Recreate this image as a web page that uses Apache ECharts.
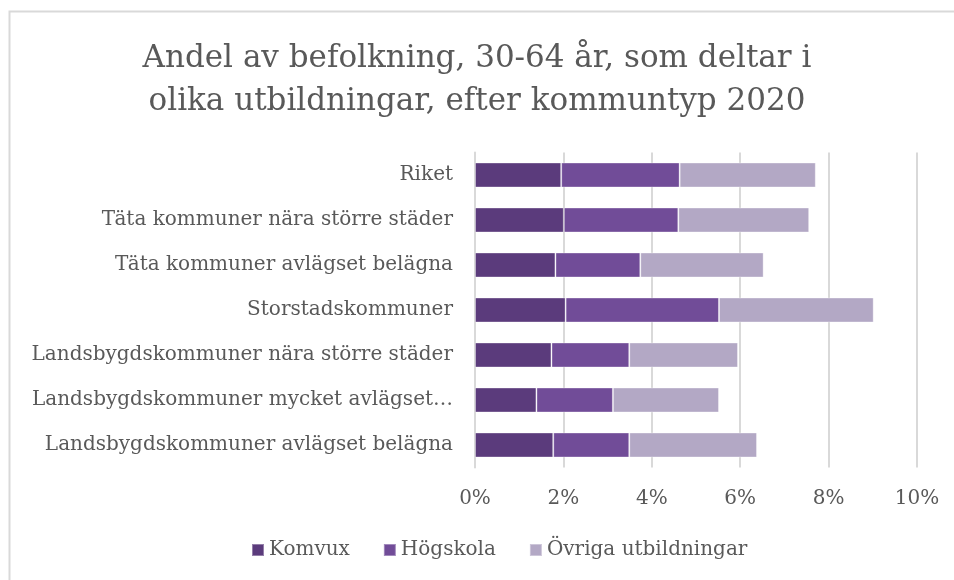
<!DOCTYPE html>
<html>
<head>
<meta charset="utf-8">
<script src="https://cdn.jsdelivr.net/npm/echarts@6/dist/echarts.min.js"></script>
<style>
  html, body { margin: 0; padding: 0; background: #ffffff; }
  #chart { width: 954px; height: 580px; }
</style>
</head>
<body>
<div id="chart"></div>
<script>
// Kommuntyper, uppifrån och ned
const categories = [
  'Riket',
  'Täta kommuner nära större städer',
  'Täta kommuner avlägset belägna',
  'Storstadskommuner',
  'Landsbygdskommuner nära större städer',
  'Landsbygdskommuner mycket avlägset belägna',
  'Landsbygdskommuner avlägset belägna'
];

// Andel (%) per utbildningsform
const komvux   = [1.95, 2.01, 1.82, 2.05, 1.73, 1.39, 1.77];
const hogskola = [2.68, 2.59, 1.92, 3.47, 1.76, 1.73, 1.72];
const ovriga   = [3.08, 2.96, 2.79, 3.50, 2.46, 2.40, 2.89];

const seriesNames = ['Komvux', 'Högskola', 'Övriga utbildningar'];
const xTicks = [0, 2, 4, 6, 8, 10];

const FONT = 'DejaVu Serif';
const TEXT = '#595959';
const GRID = '#d9d9d9';

// Korta av långa kategorinamn ordvis, med ellips
function shorten(name) {
  if (name.length <= 40) return name;
  const words = name.split(' ');
  let out = '';
  for (const w of words) {
    const next = out ? out + ' ' + w : w;
    if (next.length > 34) break;
    out = next;
  }
  return out + '…';
}

const chart = echarts.init(document.getElementById('chart'));

const colors = ['#5b3b7c', '#714c98', '#b3a8c5'];
const values = [komvux, hogskola, ovriga];

chart.setOption({
  animation: false,
  color: colors,
  textStyle: { fontFamily: FONT },
  graphic: [{
    type: 'rect',
    shape: { x: 9.5, y: 11.5, width: 960, height: 600 },
    style: { fill: 'none', stroke: GRID, lineWidth: 2 },
    silent: true
  }],
  title: {
    text: 'Andel av befolkning, 30-64 år, som deltar i\nolika utbildningar, efter kommuntyp 2020',
    left: 'center',
    top: 32,
    textStyle: {
      fontFamily: FONT,
      fontWeight: 'normal',
      fontSize: 31,
      lineHeight: 43,
      color: TEXT
    }
  },
  legend: {
    bottom: 15,
    left: 246,
    icon: 'rect',
    itemWidth: 12,
    itemHeight: 12,
    itemGap: 33,
    textStyle: { fontFamily: FONT, fontSize: 20, color: TEXT },
    data: seriesNames
  },
  grid: {
    left: 475,
    right: 37,
    top: 152.5,
    bottom: 112.5,
    containLabel: false
  },
  xAxis: {
    type: 'value',
    min: xTicks[0],
    max: xTicks[xTicks.length - 1],
    interval: 2,
    axisLine: { show: false },
    axisTick: { show: false },
    splitLine: { lineStyle: { color: GRID, width: 2 } },
    axisLabel: {
      formatter: '{value}%',
      fontFamily: FONT,
      fontSize: 20,
      color: TEXT,
      margin: 21
    }
  },
  yAxis: {
    type: 'category',
    inverse: true,
    data: categories,
    axisLine: { show: true, lineStyle: { color: GRID, width: 2 } },
    axisTick: { show: false },
    axisLabel: {
      formatter: shorten,
      fontFamily: FONT,
      fontSize: 20,
      color: TEXT,
      margin: 22
    }
  },
  series: seriesNames.map((name, i) => ({
    name: name,
    type: 'bar',
    stack: 'total',
    barWidth: 25,
    data: values[i],
    itemStyle: {
      color: colors[i],
      borderColor: 'rgba(255,255,255,0.35)',
      borderWidth: 1
    }
  }))
});
</script>
</body>
</html>
